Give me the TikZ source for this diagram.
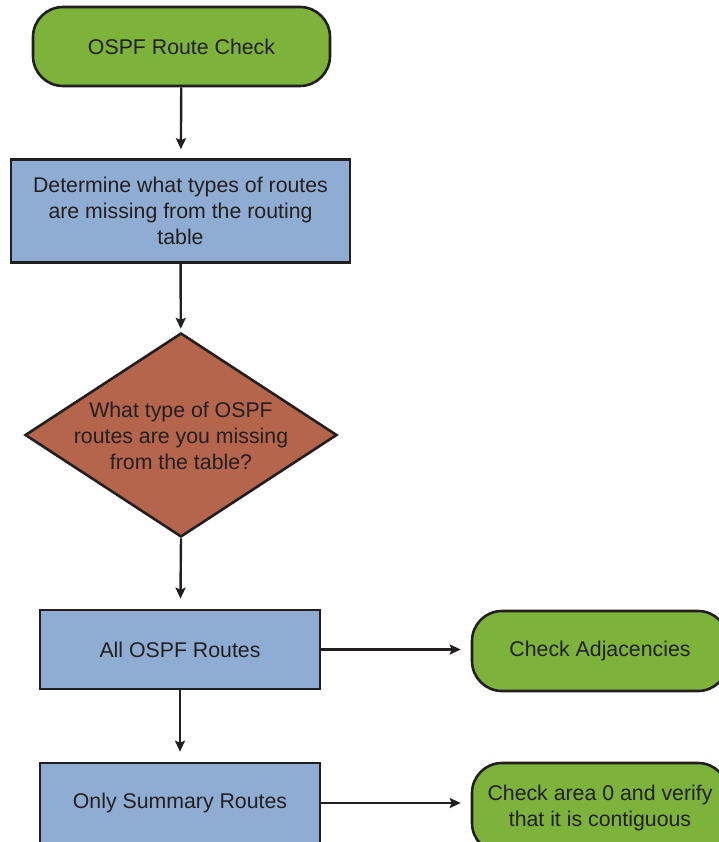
\documentclass[tikz,border=0pt]{standalone}
\usepackage{fontspec}
\setmainfont{Liberation Sans}
\usetikzlibrary{shapes.geometric,arrows.meta}
\definecolor{leaf}{HTML}{7DB33A}
\definecolor{sky}{HTML}{8FADD3}
\definecolor{brick}{HTML}{B5654B}
\definecolor{ink}{HTML}{231F20}
\tikzset{
  base/.style={draw=ink, line width=2.6pt, inner sep=0pt, text=ink,
    font=\fontsize{21.3}{26}\selectfont, align=center},
  term/.style={base, fill=leaf, rounded corners=30pt},
  proc/.style={base, fill=sky},
  decide/.style={base, fill=brick, diamond},
  plain/.style={inner sep=0pt, text=ink, font=\fontsize{21.3}{26}\selectfont, align=center},
  flow/.style={draw=ink, line width=2.4pt, -{Stealth[length=11pt,width=10pt,inset=2pt]}},
}
\begin{document}
\begin{tikzpicture}[x=1pt,y=-1pt]
  \useasboundingbox (0,0) rectangle (719,842);
  \clip (0,0) rectangle (719,842);

  \node[term, minimum width=297pt, minimum height=79pt] (start) at (181.5,46.5) {OSPF Route Check};
  \node[proc, minimum width=339pt, minimum height=103pt] (types) at (180.5,211)
    {Determine what types of routes\\are missing from the routing\\table};
  \node[decide, minimum width=312pt, minimum height=204pt] (ask) at (181,435) {};
  \node[plain] (asktext) at (181,436) {What type of OSPF\\routes are you missing\\from the table?};
  \node[proc, minimum width=280pt, minimum height=79pt] (all) at (180,649.5) {All OSPF Routes};
  \node[proc, minimum width=280pt, minimum height=80pt] (summ) at (180,803) {Only Summary Routes};
  \node[term, minimum width=256pt, minimum height=80pt] (adj) at (600,651) {Check Adjacencies};
  \node[term, minimum width=256pt, minimum height=90pt] (area) at (600,808)
    {Check area 0 and verify\\that it is contiguous};

  \draw[flow, shorten >=9pt] (start) -- (types);
  \draw[flow, shorten >=3pt] (types) -- (ask);
  \draw[flow, shorten >=10pt] (ask.south) -- (all);
  \draw[flow, shorten >=10pt] (all) -- (summ);
  \draw[flow, shorten >=10pt] (all.east) -- (adj.west |- all.east);
  \draw[flow, shorten >=10pt] (summ.east) -- (area.west |- summ.east);
\end{tikzpicture}
\end{document}
